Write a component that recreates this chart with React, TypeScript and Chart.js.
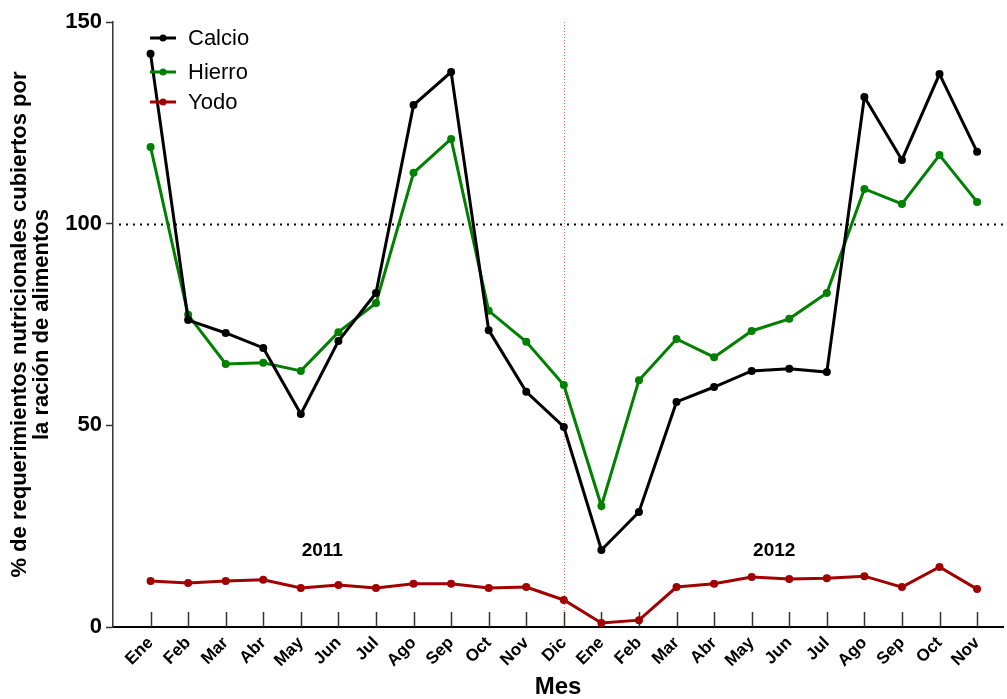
import React, { useEffect, useRef } from "react";
import { Chart, registerables } from "chart.js";

Chart.register(...registerables);

const months = ["Ene","Feb","Mar","Abr","May","Jun","Jul","Ago","Sep","Oct","Nov","Dic","Ene","Feb","Mar","Abr","May","Jun","Jul","Ago","Sep","Oct","Nov"];
const seriesNames = ["Calcio", "Hierro", "Yodo"];
const calcio = [142.1,76.1,72.9,69.2,52.8,70.9,82.8,129.4,137.6,73.6,58.3,49.6,19.1,28.5,55.8,59.5,63.5,64.0,63.2,131.4,115.8,137.1,117.8];
const hierro = [119.0,77.4,65.2,65.5,63.5,73.1,80.3,112.6,121.0,78.4,70.7,60.0,30.0,61.2,71.4,66.9,73.4,76.4,82.8,108.6,104.9,117.0,105.4];
const yodo = [11.4,10.9,11.4,11.7,9.7,10.4,9.7,10.7,10.7,9.7,9.9,6.7,1.0,1.7,9.9,10.7,12.4,11.9,12.1,12.6,9.9,14.9,9.4];
const yearLabels = ["2011", "2012"];
const yearPos = [4.57, 16.6];
const yTicks = [0, 50, 100, 150];

const colors = ["#000000", "#008000", "#a00000"];
const FONT = "'Liberation Sans', Arial, sans-serif";

export default function App() {
  const ref = useRef<HTMLCanvasElement | null>(null);
  useEffect(() => {
    if (!ref.current) return;
    const datasets = [calcio, hierro, yodo].map((arr, k) => ({
      label: seriesNames[k],
      data: arr.map((v, i) => ({ x: i, y: v })),
      borderColor: colors[k],
      backgroundColor: colors[k],
      borderWidth: 3,
      pointRadius: 4,
      pointBorderWidth: 0,
      tension: 0,
    }));
    const extras = {
      id: "extras",
      beforeDatasetsDraw(chart: any) {
        const { ctx, chartArea, scales } = chart;
        const x = scales.x, y = scales.y;
        ctx.save();
        ctx.strokeStyle = "#000";
        ctx.lineWidth = 2;
        ctx.setLineDash([2, 5]);
        const y100 = Math.round(y.getPixelForValue(100)) + 0.5;
        ctx.beginPath();
        ctx.moveTo(chartArea.left + 6, y100);
        ctx.lineTo(chartArea.right, y100);
        ctx.stroke();
        ctx.strokeStyle = "rgba(200,60,60,0.7)";
        ctx.lineWidth = 1;
        ctx.setLineDash([1, 2]);
        const xd = Math.round(x.getPixelForValue(11)) + 0.5;
        ctx.beginPath();
        ctx.moveTo(xd, chartArea.top);
        ctx.lineTo(xd, chartArea.bottom);
        ctx.stroke();
        ctx.setLineDash([]);
        ctx.strokeStyle = "#333";
        ctx.lineWidth = 1.5;
        for (let i = 0; i < months.length; i++) {
          const px = Math.round(x.getPixelForValue(i)) + 0.5;
          ctx.beginPath();
          ctx.moveTo(px, chartArea.bottom);
          ctx.lineTo(px, chartArea.bottom - 15);
          ctx.stroke();
        }
        ctx.fillStyle = "#000";
        ctx.font = `bold 19px ${FONT}`;
        ctx.textAlign = "center";
        ctx.textBaseline = "middle";
        yearLabels.forEach((t, k) => {
          ctx.fillText(t, x.getPixelForValue(yearPos[k]), y.getPixelForValue(18.8));
        });
        ctx.restore();
      },
      afterDraw(chart: any) {
        const { ctx } = chart;
        ctx.save();
        const ys = [38, 72, 102];
        seriesNames.forEach((n, k) => {
          ctx.strokeStyle = colors[k];
          ctx.fillStyle = colors[k];
          ctx.lineWidth = 3;
          ctx.beginPath();
          ctx.moveTo(150, ys[k]);
          ctx.lineTo(176, ys[k]);
          ctx.stroke();
          ctx.beginPath();
          ctx.arc(163, ys[k], 3.5, 0, Math.PI * 2);
          ctx.fill();
          ctx.fillStyle = "#000";
          ctx.font = `22px ${FONT}`;
          ctx.textAlign = "left";
          ctx.textBaseline = "middle";
          ctx.fillText(n, 188, ys[k] + 1);
        });
        ctx.restore();
      },
    };
    const chart = new Chart(ref.current, {
      type: "line",
      data: { datasets },
      plugins: [extras],
      options: {
        animation: false,
        responsive: false,
        layout: { padding: { top: 22, right: 0, left: 0, bottom: 0 } },
        plugins: { legend: { display: false }, tooltip: { enabled: false } },
        scales: {
          x: {
            type: "linear",
            min: -1,
            max: 22.69,
            afterBuildTicks(scale: any) {
              scale.ticks = months.map((_, i) => ({ value: i }));
            },
            afterFit(scale: any) {
              scale.height = 72;
            },
            grid: { display: false },
            border: { display: true, color: "#000", width: 2 },
            ticks: {
              autoSkip: false,
              minRotation: 45,
              maxRotation: 45,
              padding: -2,
              color: "#000",
              font: { family: FONT, size: 17, weight: "bold" },
              callback: (v: any) => months[v] ?? "",
            },
            title: {
              display: true,
              text: "Mes",
              color: "#000",
              font: { family: FONT, size: 24, weight: "bold", lineHeight: 1.0 },
              padding: { top: 0, bottom: 0 },
            },
          },
          y: {
            min: 0,
            max: 150,
            afterBuildTicks(scale: any) {
              scale.ticks = yTicks.map((v) => ({ value: v }));
            },
            afterFit(scale: any) {
              scale.width = 113;
            },
            grid: { drawOnChartArea: false, tickLength: 7, color: "#333", tickWidth: 1.5 },
            border: { display: true, color: "#333", width: 1.5 },
            ticks: {
              color: "#000",
              padding: 4,
              font: { family: FONT, size: 22, weight: "bold" },
            },
            title: {
              display: true,
              text: ["% de requerimientos nutricionales cubiertos por", "la ración de alimentos"],
              color: "#000",
              font: { family: FONT, size: 22, weight: "bold", lineHeight: 1.0 },
              padding: { top: 9, bottom: 0 },
            },
          },
        },
      },
    } as any);
    return () => chart.destroy();
  }, []);
  return (
    <div style={{ position: "absolute", left: 0, top: 0, width: 1007, height: 699 }}>
      <canvas ref={ref} width={1007} height={699} />
    </div>
  );
}
